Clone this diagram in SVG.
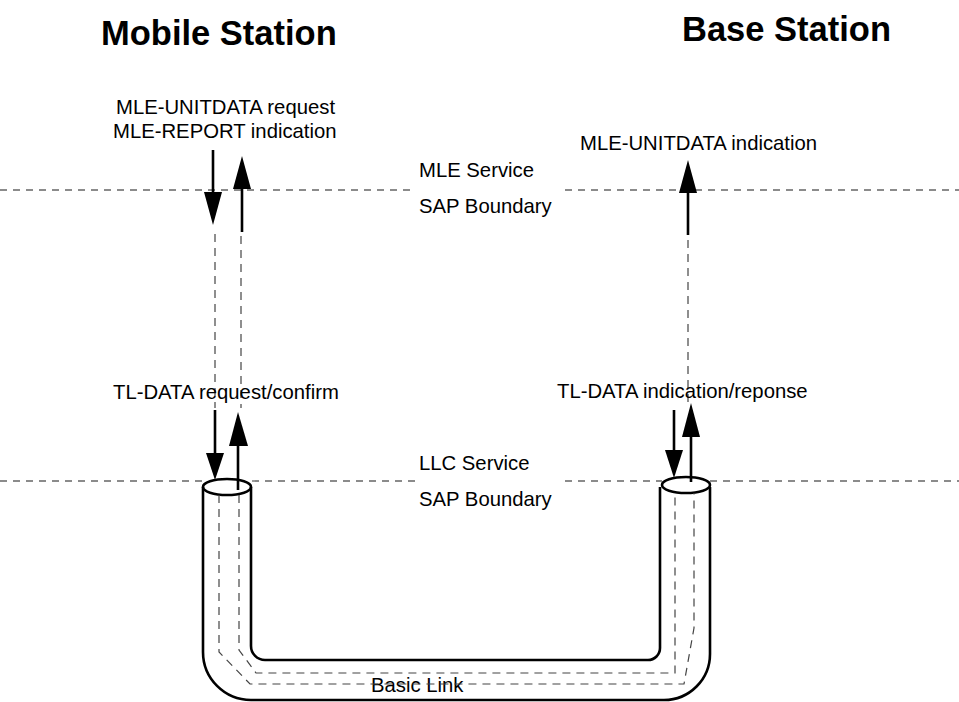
<svg xmlns="http://www.w3.org/2000/svg" width="959" height="702" viewBox="0 0 959 702">
<style>
.t{font-family:"Liberation Sans",Arial,sans-serif;font-size:20.3px;fill:#000}
.h{font-family:"Liberation Sans",Arial,sans-serif;font-size:34.5px;font-weight:bold;fill:#000}
.b{stroke:#666;stroke-width:1.3;stroke-dasharray:7 6;fill:none}
.d{stroke:#444;stroke-width:1.2;stroke-dasharray:8 6;fill:none}
.a{stroke:#000;stroke-width:2.6;fill:none}
.tube{stroke:#000;stroke-width:2.6;fill:none}
.hd{fill:#000}
</style>
<rect width="959" height="702" fill="#fff"/>
<g id="titles">
<text class="h" x="101" y="45">Mobile Station</text>
<text class="h" x="682" y="41">Base Station</text>
</g>
<g id="boundaries">
<line class="b" x1="0" y1="190" x2="416" y2="190"/>
<line class="b" x1="565" y1="190" x2="959" y2="190"/>
<text class="t" x="419" y="177">MLE Service</text>
<text class="t" x="419" y="213">SAP Boundary</text>
<line class="b" x1="0" y1="481" x2="203" y2="481"/>
<line class="b" x1="252" y1="481" x2="416" y2="481"/>
<line class="b" x1="565" y1="481" x2="662" y2="481"/>
<line class="b" x1="710" y1="481" x2="959" y2="481"/>
<text class="t" x="419" y="470">LLC Service</text>
<text class="t" x="419" y="506">SAP Boundary</text>
</g>
<g id="tube">
<path class="tube" d="M203 487 V652 A48 48 0 0 0 251 700 H664 A46 46 0 0 0 710 654 V487"/>
<path class="tube" d="M251 487 V646 A14 14 0 0 0 265 660 H648 A12 12 0 0 0 660 648 V487"/>
<ellipse class="tube" cx="227" cy="487" rx="24" ry="8" fill="#fff"/>
<ellipse class="tube" cx="686" cy="485" rx="24" ry="8" fill="#fff"/>
<text class="t" x="371" y="692">Basic Link</text>
</g>
<g id="connectors">
<path class="d" d="M219 495 V652 L250 684 H684 L694 628 V493"/>
<path class="d" d="M239 495 V650 L256 673 H675 V493"/>
<line class="d" x1="215" y1="234" x2="215" y2="408"/>
<line class="d" x1="241" y1="236" x2="241" y2="408"/>
<line class="d" x1="688" y1="240" x2="688" y2="402"/>
<line class="a" x1="213" y1="150" x2="213" y2="195"/>
<polygon class="hd" points="204,192 222,192 213,225"/>
<line class="a" x1="242" y1="232" x2="242" y2="186"/>
<polygon class="hd" points="233,189 251,189 242,156"/>
<line class="a" x1="215" y1="410" x2="215" y2="456"/>
<polygon class="hd" points="206,453 224,453 215,480"/>
<line class="a" x1="238" y1="490" x2="238" y2="443"/>
<polygon class="hd" points="229,446 248,446 238,412"/>
<line class="a" x1="674" y1="410" x2="674" y2="453"/>
<polygon class="hd" points="665,450 683,450 674,478"/>
<line class="a" x1="691" y1="482" x2="691" y2="434"/>
<polygon class="hd" points="682,437 700,437 691,403"/>
<line class="a" x1="688" y1="235" x2="688" y2="190"/>
<polygon class="hd" points="679,193 697,193 688,160"/>
</g>
<g id="labels">
<text class="t" x="116" y="114">MLE-UNITDATA request</text>
<text class="t" x="113" y="138">MLE-REPORT indication</text>
<text class="t" x="580" y="150">MLE-UNITDATA indication</text>
<text class="t" x="113" y="399">TL-DATA request/confirm</text>
<text class="t" x="557" y="398">TL-DATA indication/reponse</text>
</g>
</svg>
